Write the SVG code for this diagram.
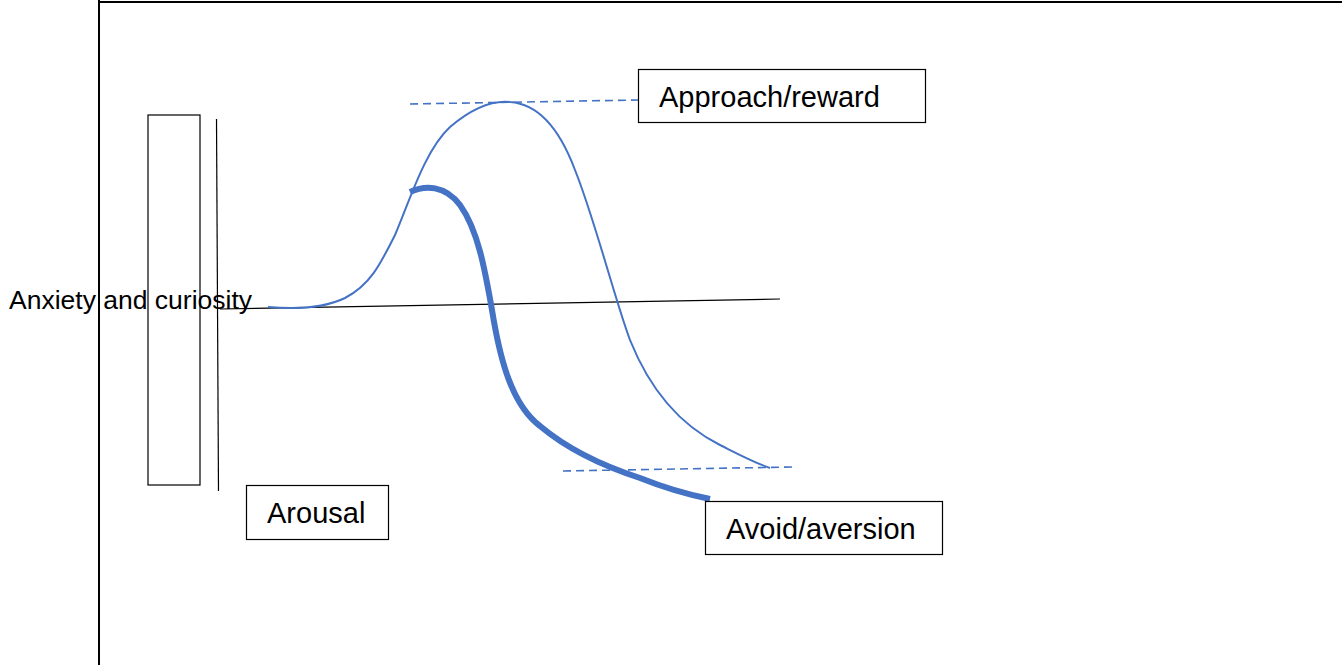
<svg xmlns="http://www.w3.org/2000/svg" width="1344" height="665" viewBox="0 0 1344 665">
<style>
.lbl{font-family:"Liberation Sans",Arial,sans-serif;fill:#000}
.box{fill:#fff;stroke:#000;stroke-width:1.2}
.blue{fill:none;stroke:#4472C4;stroke-linecap:butt}
.dash{fill:none;stroke:#4472C4;stroke-width:1.6;stroke-dasharray:8 5}
</style>
<rect width="1344" height="665" fill="#fff"/>
<g id="frame">
<line x1="99" y1="0" x2="99" y2="665" stroke="#000" stroke-width="2"/>
<line x1="98" y1="2" x2="1342" y2="2" stroke="#000" stroke-width="2"/>
</g>
<g id="connectors">
<rect x="148" y="115" width="52" height="370" class="box" fill="none"/>
<line x1="216.5" y1="119" x2="218.5" y2="491" stroke="#000" stroke-width="1.2"/>
<line x1="220" y1="309" x2="780" y2="299" stroke="#000" stroke-width="1.2"/>
<path class="dash" d="M410,104 L638,100"/>
<path class="dash" d="M563,471 L792,467"/>
<path class="blue" stroke-width="2" d="M268,307 C290,309 320,310 345,298 C370,285 380,265 395,235 C410,200 425,150 450,127 C470,110 490,100 510,102 C540,104 560,130 575,170 C595,220 615,300 630,340 C650,390 680,425 720,445 C740,455 755,463 770,468"/>
<path class="blue" stroke-width="6" d="M410,192 C425,185 445,185 460,205 C478,230 485,270 492,310 C500,360 512,405 540,426 C565,447 600,465 640,478 C670,490 690,495 710,499"/>
</g>
<g id="anxiety">
<text class="lbl" x="9" y="309" font-size="26.5">Anxiety and curiosity</text>
</g>
<g id="approach">
<rect x="638.5" y="69.5" width="287" height="53" class="box"/>
<text class="lbl" x="659" y="107" font-size="29">Approach/reward</text>
</g>
<g id="arousal">
<rect x="246.5" y="485.5" width="142" height="54" class="box"/>
<text class="lbl" x="267" y="523" font-size="29">Arousal</text>
</g>
<g id="avoid">
<rect x="705.5" y="501.5" width="237" height="53" class="box"/>
<text class="lbl" x="726" y="539" font-size="29">Avoid/aversion</text>
</g>
</svg>
